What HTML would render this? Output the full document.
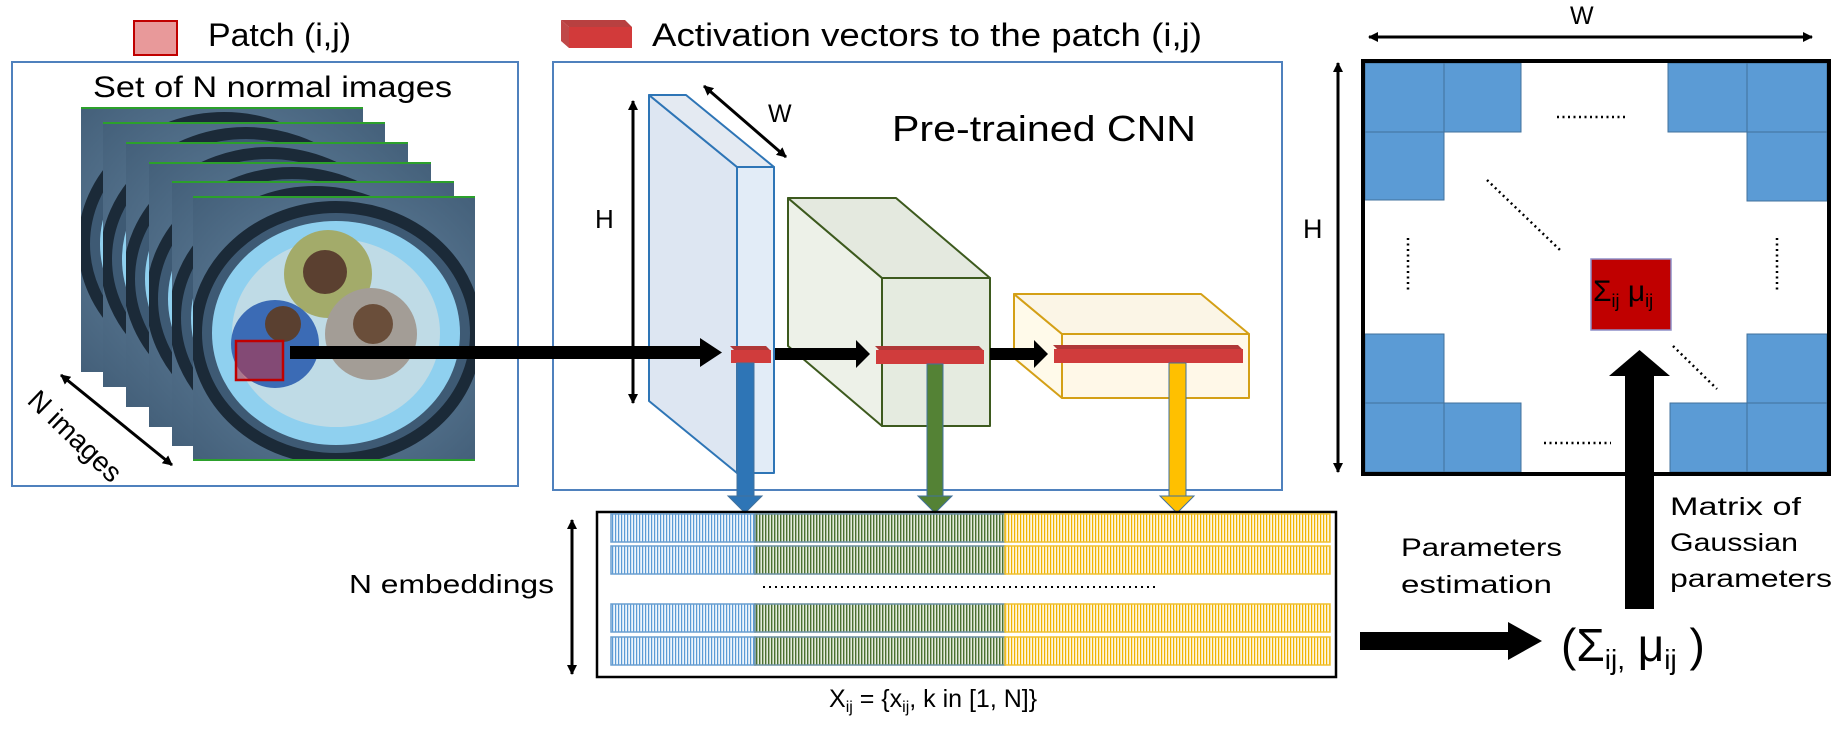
<!DOCTYPE html>
<html><head><meta charset="utf-8"><style>
html,body{margin:0;padding:0;background:#fff;}
svg{display:block;font-family:"Liberation Sans",sans-serif;}
</style></head><body>
<svg width="1847" height="737" viewBox="0 0 1847 737" xmlns="http://www.w3.org/2000/svg">
<defs>
<marker id="ah" markerWidth="10" markerHeight="10" refX="9" refY="5" orient="auto" markerUnits="userSpaceOnUse"><path d="M0,0 L10,5 L0,10 z" fill="#000"/></marker>
<marker id="at" markerWidth="10" markerHeight="10" refX="1" refY="5" orient="auto" markerUnits="userSpaceOnUse"><path d="M10,0 L0,5 L10,10 z" fill="#000"/></marker>
<pattern id="pb" width="3" height="10" patternUnits="userSpaceOnUse"><rect width="3" height="10" fill="#eef5fc"/><rect width="1.2" height="10" fill="#5b9bd5"/></pattern>
<pattern id="pg" width="3" height="10" patternUnits="userSpaceOnUse"><rect width="3" height="10" fill="#e4ecdc"/><rect width="1.4" height="10" fill="#4a7030"/></pattern>
<pattern id="py" width="3" height="10" patternUnits="userSpaceOnUse"><rect width="3" height="10" fill="#fff6dc"/><rect width="1.2" height="10" fill="#f0b400"/></pattern>
<radialGradient id="bgimg" cx="50%" cy="50%" r="70%"><stop offset="0" stop-color="#6a8aa5"/><stop offset="1" stop-color="#44607a"/></radialGradient>
<g id="img">
<rect x="0" y="0" width="282" height="265" fill="url(#bgimg)"/>
<ellipse cx="143" cy="137" rx="140" ry="126" fill="#3e5a74" stroke="#1b2a38" stroke-width="12"/>
<ellipse cx="143" cy="137" rx="124" ry="112" fill="#8fd0ef"/>
<ellipse cx="143" cy="137" rx="104" ry="94" fill="#bfdbe6"/>
<circle cx="135" cy="78" r="44" fill="#a3ab6a"/>
<circle cx="132" cy="76" r="22" fill="#5b4030"/>
<circle cx="82" cy="148" r="44" fill="#3b6bb5"/>
<circle cx="178" cy="138" r="46" fill="#a39d96"/>
<circle cx="180" cy="128" r="20" fill="#6a4e3a"/>
<circle cx="90" cy="128" r="18" fill="#5a4030"/>
</g>
<clipPath id="ic"><rect x="0" y="0" width="282" height="265"/></clipPath>
</defs>

<rect x="134" y="21" width="43" height="34" fill="#e8999a" stroke="#c00000" stroke-width="2"/>
<text x="208" y="46" font-size="32" textLength="143" lengthAdjust="spacingAndGlyphs">Patch (i,j)</text>
<polygon points="561,20 625,20 632,27 569,27" fill="#b84040"/>
<polygon points="561,20 569,27 569,48 561,41" fill="#c04848"/>
<rect x="569" y="27" width="63" height="21" fill="#d23a3a"/>
<text x="652" y="46" font-size="32" textLength="550" lengthAdjust="spacingAndGlyphs">Activation vectors to the patch (i,j)</text>

<rect x="12" y="62" width="506" height="424" fill="none" stroke="#4f81bd" stroke-width="2"/>
<text x="93" y="97" font-size="30" textLength="359" lengthAdjust="spacingAndGlyphs">Set of N normal images</text>
<g transform="translate(81,107)"><g clip-path="url(#ic)"><use href="#img"/></g><line x1="0" y1="1" x2="282" y2="1" stroke="#2ca02c" stroke-width="2"/></g>
<g transform="translate(103,122)"><g clip-path="url(#ic)"><use href="#img"/></g><line x1="0" y1="1" x2="282" y2="1" stroke="#2ca02c" stroke-width="2"/></g>
<g transform="translate(126,142)"><g clip-path="url(#ic)"><use href="#img"/></g><line x1="0" y1="1" x2="282" y2="1" stroke="#2ca02c" stroke-width="2"/></g>
<g transform="translate(149,162)"><g clip-path="url(#ic)"><use href="#img"/></g><line x1="0" y1="1" x2="282" y2="1" stroke="#2ca02c" stroke-width="2"/></g>
<g transform="translate(172,181)"><g clip-path="url(#ic)"><use href="#img"/></g><line x1="0" y1="1" x2="282" y2="1" stroke="#2ca02c" stroke-width="2"/></g>
<g transform="translate(193,196)"><g clip-path="url(#ic)"><use href="#img"/></g><line x1="0" y1="1" x2="282" y2="1" stroke="#2ca02c" stroke-width="2"/><line x1="0" y1="264" x2="282" y2="264" stroke="#2ca02c" stroke-width="2"/></g>
<rect x="236" y="341" width="47" height="39" fill="#c03040" fill-opacity="0.55" stroke="#c00000" stroke-width="2.5"/>
<line x1="61" y1="375" x2="172" y2="465" stroke="#000" stroke-width="3" marker-start="url(#at)" marker-end="url(#ah)"/>
<text transform="translate(26,402) rotate(44)" font-size="28" textLength="118" lengthAdjust="spacingAndGlyphs">N images</text>

<rect x="553" y="62" width="729" height="428" fill="none" stroke="#4f81bd" stroke-width="2"/>
<text x="892" y="141" font-size="36" textLength="304" lengthAdjust="spacingAndGlyphs">Pre-trained CNN</text>
<line x1="633" y1="101" x2="633" y2="403" stroke="#000" stroke-width="3" marker-start="url(#at)" marker-end="url(#ah)"/>
<text x="595" y="228" font-size="26">H</text>
<line x1="704" y1="86" x2="786" y2="157" stroke="#000" stroke-width="3" marker-start="url(#at)" marker-end="url(#ah)"/>
<text x="768" y="122" font-size="25">W</text>

<g stroke="#2e75b6" stroke-width="2" stroke-linejoin="round">
<polygon points="649,95 737,167 737,473 649,401" fill="#dde6f2"/>
<polygon points="649,95 686,95 774,167 737,167" fill="#e4eaf2"/>
<rect x="737" y="167" width="37" height="306" fill="#e2ecf7"/>
</g>
<rect x="290" y="346" width="412" height="13" fill="#000"/>
<polygon points="700,338 722,352.5 700,367" fill="#000"/>
<polygon points="730,346 766,346 771,351 735,351" fill="#b03838"/>
<rect x="731" y="350" width="40" height="13" fill="#d03c3c"/>
<g stroke="#41719c" stroke-width="1">
<rect x="737" y="363" width="17" height="133" fill="#2e75b6"/>
<polygon points="728,496 762,496 745,513" fill="#2e75b6"/>
</g>

<g stroke="#3d5a1e" stroke-width="2" stroke-linejoin="round">
<polygon points="788,198 882,278 882,426 788,346" fill="#edf1e8"/>
<polygon points="788,198 896,198 990,278 882,278" fill="#e4e9df"/>
<rect x="882" y="278" width="108" height="148" fill="#e5ebe0"/>
</g>
<rect x="775" y="348" width="83" height="12" fill="#000"/>
<polygon points="856,340 870,354 856,368" fill="#000"/>
<polygon points="875,346 979,346 984,351 880,351" fill="#b03838"/>
<rect x="876" y="350" width="108" height="14" fill="#d03c3c"/>
<g stroke="#41719c" stroke-width="1">
<rect x="927" y="364" width="16" height="132" fill="#548235"/>
<polygon points="918,496 952,496 935,513" fill="#548235"/>
</g>

<g stroke="#d4a017" stroke-width="2" stroke-linejoin="round">
<polygon points="1014,294 1062,334 1062,398 1014,358" fill="#fffaea"/>
<polygon points="1014,294 1201,294 1249,334 1062,334" fill="#fbf5e6"/>
<rect x="1062" y="334" width="187" height="64" fill="#fff8e8"/>
</g>
<rect x="990" y="348" width="45" height="12" fill="#000"/>
<polygon points="1034,340 1048,354 1034,368" fill="#000"/>
<polygon points="1053,345 1238,345 1243,350 1058,350" fill="#b03838"/>
<rect x="1054" y="349" width="189" height="14" fill="#d03c3c"/>
<g stroke="#41719c" stroke-width="1">
<rect x="1169" y="363" width="17" height="133" fill="#ffc000"/>
<polygon points="1160,496 1194,496 1177,513" fill="#ffc000"/>
</g>

<rect x="597" y="512" width="739" height="165" fill="none" stroke="#000" stroke-width="2.5"/>
<g stroke-width="1.5">
<rect x="611" y="514" width="144" height="28" fill="url(#pb)" stroke="#6a9fd0"/>
<rect x="755" y="514" width="250" height="28" fill="url(#pg)" stroke="#6a8fa0"/>
<rect x="1005" y="514" width="325" height="28" fill="url(#py)" stroke="#f0c030"/>
<rect x="611" y="546" width="144" height="28" fill="url(#pb)" stroke="#6a9fd0"/>
<rect x="755" y="546" width="250" height="28" fill="url(#pg)" stroke="#6a8fa0"/>
<rect x="1005" y="546" width="325" height="28" fill="url(#py)" stroke="#f0c030"/>
<rect x="611" y="604" width="144" height="28" fill="url(#pb)" stroke="#6a9fd0"/>
<rect x="755" y="604" width="250" height="28" fill="url(#pg)" stroke="#6a8fa0"/>
<rect x="1005" y="604" width="325" height="28" fill="url(#py)" stroke="#f0c030"/>
<rect x="611" y="637" width="144" height="28" fill="url(#pb)" stroke="#6a9fd0"/>
<rect x="755" y="637" width="250" height="28" fill="url(#pg)" stroke="#6a8fa0"/>
<rect x="1005" y="637" width="325" height="28" fill="url(#py)" stroke="#f0c030"/>
</g>
<line x1="763" y1="587" x2="1158" y2="587" stroke="#000" stroke-width="2" stroke-dasharray="2,4"/>
<line x1="572" y1="520" x2="572" y2="674" stroke="#000" stroke-width="3" marker-start="url(#at)" marker-end="url(#ah)"/>
<text x="349" y="593" font-size="26" textLength="205" lengthAdjust="spacingAndGlyphs">N embeddings</text>
<text x="829" y="707" font-size="25">X<tspan font-size="16" dy="5">ij</tspan><tspan dy="-5"> = {x</tspan><tspan font-size="16" dy="5">ij</tspan><tspan dy="-5">, k in [1, N]}</tspan></text>

<line x1="1369" y1="37" x2="1812" y2="37" stroke="#000" stroke-width="3" marker-start="url(#at)" marker-end="url(#ah)"/>
<text x="1570" y="24" font-size="25">W</text>
<line x1="1338" y1="63" x2="1338" y2="472" stroke="#000" stroke-width="3" marker-start="url(#at)" marker-end="url(#ah)"/>
<text x="1303" y="238" font-size="27">H</text>
<g fill="#5b9bd5" stroke="#41719c" stroke-width="1">
<rect x="1365" y="63" width="79" height="69"/>
<rect x="1444" y="63" width="77" height="69"/>
<rect x="1365" y="132" width="79" height="68"/>
<rect x="1668" y="63" width="79" height="69"/>
<rect x="1747" y="63" width="80" height="69"/>
<rect x="1747" y="132" width="80" height="69"/>
<rect x="1365" y="334" width="79" height="69"/>
<rect x="1365" y="403" width="79" height="69"/>
<rect x="1444" y="403" width="77" height="69"/>
<rect x="1747" y="334" width="80" height="69"/>
<rect x="1670" y="403" width="77" height="69"/>
<rect x="1747" y="403" width="80" height="69"/>
</g>
<rect x="1363" y="61" width="466" height="413" fill="none" stroke="#000" stroke-width="4"/>
<g stroke="#000" stroke-width="2.5" stroke-dasharray="2,3.5">
<line x1="1557" y1="117" x2="1625" y2="117"/>
<line x1="1544" y1="443" x2="1611" y2="443"/>
<line x1="1408" y1="238" x2="1408" y2="291"/>
<line x1="1777" y1="238" x2="1777" y2="291"/>
<line x1="1487" y1="180" x2="1560" y2="250"/>
<line x1="1673" y1="346" x2="1717" y2="389"/>
</g>
<rect x="1591" y="259" width="80" height="71" fill="#c00000" stroke="#8e8fc8" stroke-width="1.5"/>
<text x="1593" y="301" font-size="30">Σ<tspan font-size="18" dy="6">ij</tspan><tspan dy="-6"> μ</tspan><tspan font-size="18" dy="6">ij</tspan></text>
<rect x="1625" y="375" width="29" height="234" fill="#000"/>
<polygon points="1609,376 1670,376 1639.5,350" fill="#000"/>
<text font-size="25"><tspan x="1670" y="515" textLength="131" lengthAdjust="spacingAndGlyphs">Matrix of</tspan><tspan x="1670" y="551" textLength="128" lengthAdjust="spacingAndGlyphs">Gaussian</tspan><tspan x="1670" y="587" textLength="162" lengthAdjust="spacingAndGlyphs">parameters</tspan></text>
<text font-size="25"><tspan x="1401" y="556" textLength="161" lengthAdjust="spacingAndGlyphs">Parameters</tspan><tspan x="1401" y="593" textLength="151" lengthAdjust="spacingAndGlyphs">estimation</tspan></text>
<rect x="1360" y="632" width="150" height="18" fill="#000"/>
<polygon points="1508,622 1542,641 1508,660" fill="#000"/>
<text x="1561" y="661" font-size="46">(Σ<tspan font-size="28" dy="8">ij,</tspan><tspan dy="-8">  μ</tspan><tspan font-size="28" dy="8">ij</tspan><tspan dy="-8"> )</tspan></text>
</svg>
</body></html>
